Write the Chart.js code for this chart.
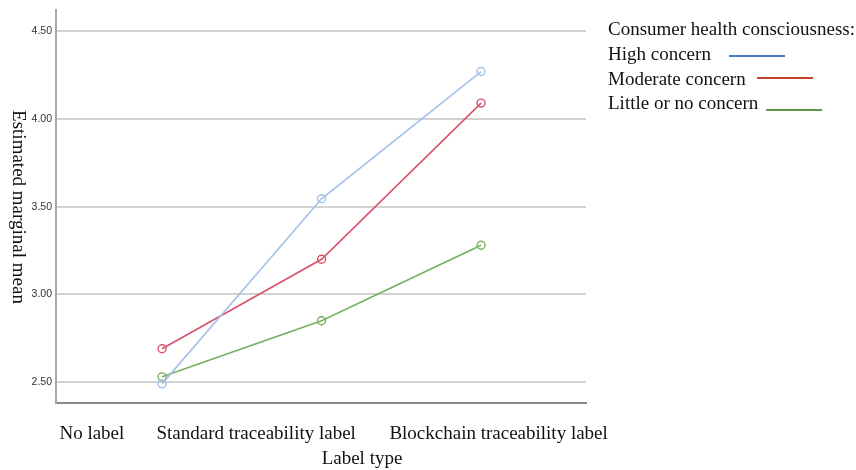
<!DOCTYPE html>
<html>
<head>
<meta charset="utf-8"/>
<title>Estimated marginal means</title>
<script src="https://cdn.jsdelivr.net/npm/chart.js"></script>
<style>
  body { margin: 0; background: #ffffff; }
  canvas { display: block; }
</style>
</head>
<body>
<canvas id="chart" width="856" height="470"></canvas>
<script>
  // categories on the x axis
  const labelTypes = ['No label', 'Standard traceability label', 'Blockchain traceability label'];
  // y axis tick values
  const yTicks = [2.50, 3.00, 3.50, 4.00, 4.50];
  // series, one value per measured point
  const seriesNames = ['High concern', 'Moderate concern', 'Little or no concern'];
  const highConcern = [2.49, 3.545, 4.27];
  const moderateConcern = [2.69, 3.20, 4.09];
  const littleConcern = [2.53, 2.85, 3.28];

  const lineColors = ['#a3c1ea', '#d9526b', '#76b05e'];
  const legendColors = ['#4a78c2', '#c0462c', '#5c9a4c'];
  // where the tick labels sit, in x units (they are not under the points in the original)
  const tickSpots = [-0.44, 0.59, 2.11];
  const serif = '"Liberation Serif", "Times New Roman", serif';

  function toPoints(vals) {
    return vals.map((v, i) => ({ x: i, y: v }));
  }

  const datasets = [highConcern, moderateConcern, littleConcern].map((vals, i) => ({
    label: seriesNames[i],
    data: toPoints(vals),
    borderColor: lineColors[i],
    backgroundColor: 'rgba(255,255,255,0)',
    pointBorderColor: lineColors[i],
    pointBackgroundColor: 'rgba(255,255,255,0)',
    pointRadius: 4,
    pointBorderWidth: 1.4,
    borderWidth: 1.6,
    tension: 0
  }));

  // legend, axis titles drawn by hand, the way the original has them
  const extras = {
    id: 'extras',
    afterDraw(chart) {
      const ctx = chart.ctx;
      ctx.save();
      ctx.font = '19px ' + serif;
      ctx.fillStyle = '#111';
      ctx.textBaseline = 'middle';
      ctx.textAlign = 'left';
      ctx.fillText('Consumer health consciousness:', 608, 30);
      const rowY = [55, 80, 104];
      const lineX = [729, 757, 766];
      const lineY = [56, 78, 110];
      seriesNames.forEach((name, i) => {
        ctx.fillStyle = '#111';
        ctx.fillText(name, 608, rowY[i]);
        ctx.strokeStyle = legendColors[i];
        ctx.lineWidth = 2;
        ctx.beginPath();
        ctx.moveTo(lineX[i], lineY[i]);
        ctx.lineTo(lineX[i] + 56, lineY[i]);
        ctx.stroke();
      });
      ctx.textAlign = 'center';
      ctx.fillStyle = '#111';
      ctx.fillText('Label type', 362, 459);
      // y title reads top to bottom in the original
      ctx.translate(18, 207);
      ctx.rotate(Math.PI / 2);
      ctx.fillText('Estimated marginal mean', 0, 0);
      ctx.restore();
    }
  };

  new Chart(document.getElementById('chart'), {
    type: 'line',
    data: { datasets: datasets },
    plugins: [extras],
    options: {
      responsive: false,
      animation: false,
      layout: { padding: { top: 8, right: 270, left: 0, bottom: 0 } },
      plugins: {
        legend: { display: false },
        tooltip: { enabled: false }
      },
      scales: {
        x: {
          type: 'linear',
          min: -0.665,
          max: 2.658,
          grid: { display: false },
          border: { display: true, color: '#8a8a8a', width: 2 },
          afterFit: s => { s.height = 67; },
          afterBuildTicks: s => { s.ticks = tickSpots.map(v => ({ value: v })); },
          ticks: {
            autoSkip: false,
            maxRotation: 0,
            padding: 12,
            color: '#111',
            font: { family: serif, size: 19 },
            callback: (v, i) => labelTypes[i]
          }
        },
        y: {
          min: 2.381,
          max: 4.619,
          afterFit: s => { s.width = 56; },
          afterBuildTicks: s => { s.ticks = yTicks.map(v => ({ value: v })); },
          grid: { color: '#d2d2d2', lineWidth: 2, drawTicks: false },
          border: { display: true, color: '#a8a8a8', width: 2 },
          ticks: {
            padding: 4,
            color: '#333',
            font: { family: '"Liberation Sans", Arial, sans-serif', size: 10.5 },
            callback: v => v.toFixed(2)
          }
        }
      }
    }
  });
</script>
</body>
</html>
